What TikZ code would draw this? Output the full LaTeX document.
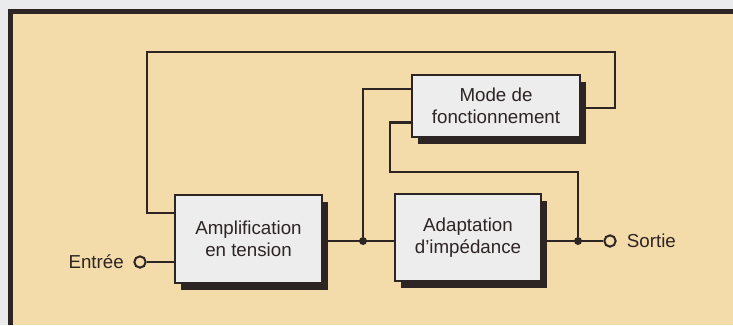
\documentclass[tikz,border=0pt]{standalone}
\usepackage{fontspec}
\setmainfont{Liberation Sans}
\usepackage{tikz}
\usetikzlibrary{positioning,shadows,calc}
\definecolor{paper}{RGB}{233,235,236}
\definecolor{beige}{RGB}{244,220,170}
\definecolor{ink}{RGB}{45,36,36}
\definecolor{boxgrey}{RGB}{237,237,238}

\begin{document}
\begin{tikzpicture}[x=0.03cm, y=-0.03cm,
    block/.style={draw=ink, line width=0.08cm, fill=boxgrey, align=center, inner sep=0pt,
      text=ink, font=\fontsize{16}{19}\selectfont,
      drop shadow={shadow xshift=0.18cm, shadow yshift=-0.2cm, fill=ink, opacity=1}},
    wire/.style={draw=ink, line width=0.07cm},
    dot/.style={circle, fill=ink, inner sep=0pt, minimum size=0.24cm},
    port/.style={circle, draw=ink, line width=0.06cm, inner sep=0pt, minimum size=0.34cm},
    lbl/.style={inner sep=0pt, text=ink, font=\fontsize{16}{19}\selectfont}]
  \useasboundingbox (0,0) rectangle (733,325);
  % panel
  \fill[paper] (0,0) rectangle (733,325);
  \fill[beige] (10,11) rectangle (733,325);
  \draw[ink, line width=0.13cm] (10.5,325) -- (10.5,11.5) -- (733,11.5);

  % blocks
  \node[block, minimum width=4.41cm, minimum height=2.64cm] (ampli) at (248.5,239) {Amplification\\en tension};
  \node[block, minimum width=4.38cm, minimum height=2.61cm] (adapt) at (468,237.5) {Adaptation\\d'impédance};
  \node[block, minimum width=5.04cm, minimum height=1.86cm] (mode) at (496,106) {Mode de\\fonctionnement};

  % terminals
  \node[port] (in) at (140,262) {};
  \node[lbl, left=0.28cm of in] (entree) {Entrée};
  \node[port] (out) at (610,241) {};
  \node[lbl, right=0.3cm of out] (sortie) {Sortie};
  \node[dot] (j1) at (363,241) {};
  \node[dot] (j2) at (578,241) {};
  \coordinate (bend) at (390,172);
  \coordinate (topright) at (615,52);
  \coordinate (topleft) at (147,52);

  % connections
  \draw[wire] (in) -- (in -| ampli.west);
  \draw[wire] (ampli.east |- j1) -- (adapt.west |- j1);
  \draw[wire] (adapt.east |- j2) -- (out);
  \draw[wire] (j1) |- ([yshift=-0.45cm]mode.north west);
  \draw[wire] (j2) |- (bend) |- ([yshift=0.48cm]mode.south west);
  \draw[wire] ([yshift=-0.06cm]mode.east) -| (topright) -- (topleft) |- ([yshift=0.78cm]ampli.west);
\end{tikzpicture}
\end{document}
